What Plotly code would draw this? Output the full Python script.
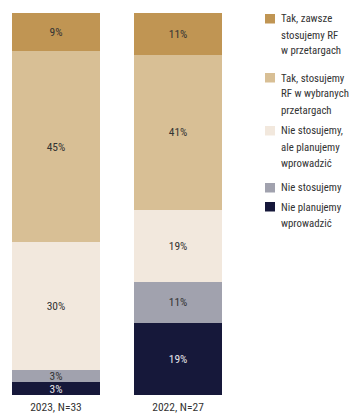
import plotly.graph_objects as go

# Survey answers per edition (share of respondents, %)
years = ["2023, N=33", "2022, N=27"]
series_names = [
    "Nie planujemy<br>wprowadzić",
    "Nie stosujemy",
    "Nie stosujemy,<br>ale planujemy<br>wprowadzić",
    "Tak, stosujemy<br>RF w wybranych<br>przetargach",
    "Tak, zawsze<br>stosujemy RF<br>w przetargach",
]
nie_planujemy = [3, 19]
nie_stosujemy = [3, 11]
planujemy = [30, 19]
wybrane = [45, 41]
zawsze = [9, 11]

values = [nie_planujemy, nie_stosujemy, planujemy, wybrane, zawsze]
colors = ["#16183a", "#a1a2ae", "#f2e8dd", "#d8bf95", "#c09553"]
text_colors = ["#e6e6ea", "#333333", "#333333", "#333333", "#333333"]

FONT = "Roboto Condensed, Liberation Sans Narrow, DejaVu Sans Condensed, sans-serif"

W, H = 350, 413
ML, MT, MB = 12, 13, 18
PAPER_W = W - ML
PAPER_H = H - MT - MB


def px_x(x):
    return (x - ML) / PAPER_W


def px_y(y):
    return 1 - (y - MT) / PAPER_H


fig = go.Figure()
for name, vals, col, tcol in zip(series_names, values, colors, text_colors):
    fig.add_trace(go.Bar(
        x=years,
        y=vals,
        name=name.replace("<br>", " "),
        marker=dict(color=col, line=dict(width=0)),
        width=0.72,
        text=[f"{v}%" for v in vals],
        textposition="inside",
        insidetextanchor="middle",
        textangle=0,
        textfont=dict(family=FONT, size=11.5, color=tcol),
        hoverinfo="skip",
        showlegend=False,
    ))

# Legend drawn as swatches + labels, top item = top of the stack
legend_top = [14, 73, 126, 183, 202]
LINE_H = 16
for name, col, top in zip(reversed(series_names), reversed(colors), legend_top):
    fig.add_shape(
        type="rect", xref="paper", yref="paper",
        x0=px_x(265), x1=px_x(275), y0=px_y(top + 9.5), y1=px_y(top),
        fillcolor=col, line=dict(width=0),
    )
    for k, line in enumerate(name.split("<br>")):
        fig.add_annotation(
            xref="paper", yref="paper",
            x=px_x(279), y=px_y(top + 5 + k * LINE_H),
            xanchor="left", yanchor="middle",
            text=line, showarrow=False,
            font=dict(family=FONT, size=10.8, color="#333333"),
        )

fig.update_layout(
    barmode="stack",
    barnorm="percent",
    width=W,
    height=H,
    margin=dict(l=ML, r=0, t=MT, b=MB, autoexpand=False),
    paper_bgcolor="white",
    plot_bgcolor="white",
    font=dict(family=FONT, size=11, color="#333333"),
    uniformtext=dict(minsize=8, mode="show"),
    xaxis=dict(
        domain=[0, 210 / PAPER_W],
        range=[-0.36, 1.36],
        automargin=False,
        showgrid=False,
        zeroline=False,
        showline=False,
        ticks="",
        ticklabelstandoff=3,
        tickfont=dict(family=FONT, size=11.5, color="#333333"),
    ),
    yaxis=dict(
        range=[0, 100],
        visible=False,
    ),
)

fig.write_html("out.html")
